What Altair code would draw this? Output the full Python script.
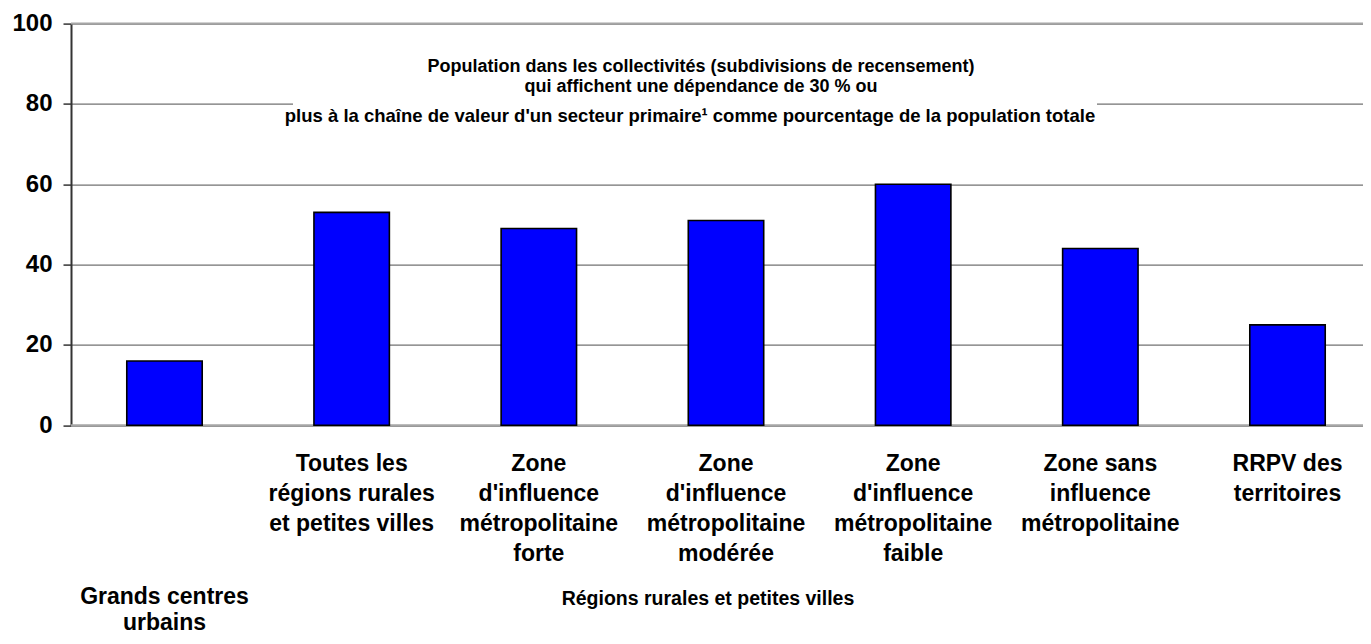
import altair as alt
import pandas as pd

# ---- data ----
categories = [
    "Grands centres urbains",
    "Toutes les|régions rurales|et petites villes",
    "Zone|d'influence|métropolitaine|forte",
    "Zone|d'influence|métropolitaine|modérée",
    "Zone|d'influence|métropolitaine|faible",
    "Zone sans|influence|métropolitaine",
    "RRPV des|territoires",
]
values = [16, 53, 49, 51, 60, 44, 25]
y_ticks = [0, 20, 40, 60, 80, 100]
frame_lines = [0, 100]
title_top = "Population dans les collectivités (subdivisions de recensement)\nqui affichent une dépendance de 30 % ou"
title_bottom = "plus à la chaîne de valeur d'un secteur primaire¹ comme pourcentage de la population totale"
first_label = "Grands centres|urbains"
group_label = "Régions rurales et petites villes"

FONT = "Liberation Sans"

bars_df = pd.DataFrame({"cat": categories, "val": values})
rules_df = pd.DataFrame({"val": frame_lines})

x_scale = alt.Scale(domain=categories, range=[0, 1310], paddingInner=0.597, paddingOuter=0.298)
y_scale = alt.Scale(domain=[0, 100], nice=False)

x_axis = alt.Axis(
    title=None,
    labelExpr="datum.value == 'Grands centres urbains' ? '' : split(datum.value, '|')",
    labelAngle=0,
    labelFont=FONT,
    labelFontSize=23,
    labelFontWeight="bold",
    labelColor="black",
    labelLineHeight=30,
    labelPadding=27,
    labelLimit=0,
    labelOverlap=False,
    labelBound=False,
    labelBaseline="top",
    labelAlign="center",
    ticks=False,
    domain=False,
    grid=False,
)
y_axis = alt.Axis(
    title=None,
    values=y_ticks,
    grid=True,
    gridColor="#4d4d4d",
    gridWidth=1,
    domainColor="#333333",
    domainWidth=2,
    tickColor="#333333",
    tickSize=8,
    tickWidth=1.5,
    labelFont=FONT,
    labelFontSize=24,
    labelFontWeight="bold",
    labelColor="black",
    labelPadding=11,
)

rules = alt.Chart(rules_df).mark_rule(color="#a6a6a6", strokeWidth=2).encode(
    y=alt.Y("val:Q", scale=y_scale, axis=y_axis)
)

bars = alt.Chart(bars_df).mark_bar(
    color="#0000ff", stroke="black", strokeWidth=1.6
).encode(
    x=alt.X("cat:N", sort=categories, scale=x_scale, axis=x_axis),
    y=alt.Y("val:Q", scale=y_scale, axis=y_axis),
)

box_df = pd.DataFrame({"t": [title_top]})
title_box = alt.Chart(box_df).mark_rect(color="white").encode(
    x=alt.value(222), x2=alt.value(1026), y=alt.value(30), y2=alt.value(102)
)
title_text1 = alt.Chart(pd.DataFrame({"t": [title_top]})).mark_text(
    font=FONT, fontSize=18, fontWeight="bold", color="black",
    lineBreak="\n", lineHeight=20, align="center", baseline="middle",
).encode(text="t:N", x=alt.value(630), y=alt.value(43.4))
title_text2 = alt.Chart(pd.DataFrame({"t": [title_bottom]})).mark_text(
    font=FONT, fontSize=18.5, fontWeight="bold", color="black",
    align="center", baseline="middle",
).encode(text="t:N", x=alt.value(619), y=alt.value(92))

first_text = alt.Chart(pd.DataFrame({"t": [first_label]})).mark_text(
    font=FONT, fontSize=23, fontWeight="bold", color="black",
    lineBreak="|", lineHeight=26, align="center", baseline="middle",
).encode(text="t:N", x=alt.value(93.5), y=alt.value(573.4))

group_text = alt.Chart(pd.DataFrame({"t": [group_label]})).mark_text(
    font=FONT, fontSize=19.5, fontWeight="bold", color="black",
    align="center", baseline="middle",
).encode(text="t:N", x=alt.value(637), y=alt.value(575))

chart = alt.layer(
    rules, bars, title_box, title_text1, title_text2, first_text, group_text
).properties(
    width=1292,
    height=401.7,
    autosize=alt.AutoSizeParams(type="none"),
    padding={"left": 63, "top": 15.6, "right": 0, "bottom": 210.7},
    background="white",
).configure_view(stroke=None)

chart.save("out.html", embed_options={"renderer": "svg", "actions": False})
